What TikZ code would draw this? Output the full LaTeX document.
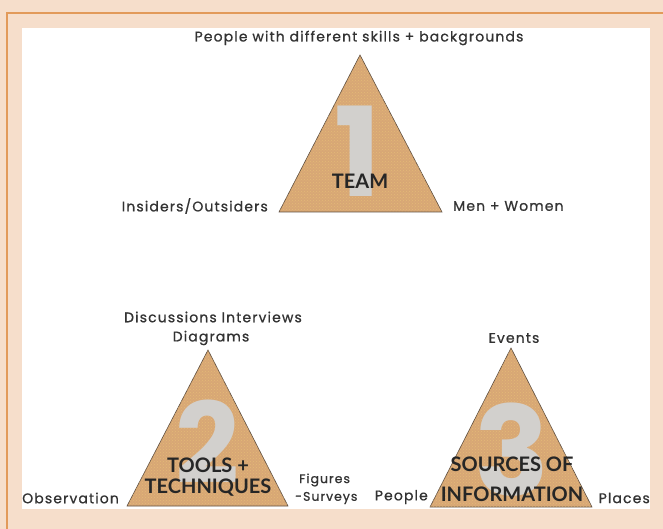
\documentclass[tikz,border=0pt]{standalone}
\usepackage{fontspec}
\usetikzlibrary{patterns}
\newfontfamily\labelfont[LetterSpace=8, FakeBold=0.8]{Poppins}
\newfontfamily\innerfont{Lato}
\newfontfamily\digitfont{Poppins}
\definecolor{peach}{HTML}{F6DECB}
\definecolor{frameorange}{HTML}{E29A5A}
\definecolor{tan}{HTML}{D8A775}
\definecolor{edge}{HTML}{5E4E40}
\definecolor{digitgrey}{HTML}{D2D0CD}
\definecolor{speck}{HTML}{F2D27A}
\tikzset{
  tri/.style={fill=tan, draw=edge, line width=0.6pt, line join=miter},
  speckle/.style={pattern=crosshatch dots, pattern color=speck, opacity=0.45},
  bignum/.style={text=digitgrey, font=\digitfont\bfseries\fontsize{124}{124}\selectfont, inner sep=0pt},
  inlabel/.style={text=black!85, font=\innerfont\bfseries\fontsize{20}{22}\selectfont, inner sep=0pt},
  outlabel/.style={text=black!80, font=\labelfont\fontsize{14}{16}\selectfont, inner sep=0pt},
  smalllabel/.style={outlabel, font=\labelfont\fontsize{12.5}{14}\selectfont}
}
\begin{document}
\begin{tikzpicture}[x=1pt,y=-1pt]
\useasboundingbox (0,0) rectangle (663,529);
% page background, white panel and the orange frame line
\fill[peach] (0,0) rectangle (663,529);
\fill[white] (22,28) rectangle (650,509);
\draw[frameorange, line width=1.6pt] (7,529) -- (7,13) -- (663,13);

% triangle corners
\coordinate (t1a) at (360,55);  \coordinate (t1l) at (279,212); \coordinate (t1r) at (442,212);
\coordinate (t2a) at (208,350); \coordinate (t2l) at (127,506); \coordinate (t2r) at (288,506);
\coordinate (t3a) at (511,348); \coordinate (t3l) at (430,507); \coordinate (t3r) at (592,507);

\foreach \t in {1,2,3}{
  \path[tri] (t\t a) -- (t\t l) -- (t\t r) -- cycle;
  \path[speckle] (t\t a) -- (t\t l) -- (t\t r) -- cycle;
}

% large numbers
\node[bignum] (n1) at (358,151) {1};
\node[bignum, font=\digitfont\bfseries\fontsize{112}{112}\selectfont] (n2) at (207,442) {2};
\node[bignum] (n3) at (512,450) {3};

% labels inside the triangles
\node[inlabel] (team) at (360,181) {TEAM};
\node[inlabel] (tools) at (208,465) {TOOLS +};
\node[inlabel] (tech) at (208,488) {TECHNIQUES};
\node[inlabel] (src) at (512,464) {SOURCES OF};
\node[inlabel] (info) at (512,494) {INFORMATION};

% labels around the triangles
\node[outlabel] (skills) at (359,38) {People with different skills + backgrounds};
\node[outlabel, anchor=east] (insiders) at (268,206) {Insiders/Outsiders};
\node[outlabel, anchor=west] (men) at (453,206) {Men + Women};
\node[outlabel] (disc) at (213,317) {Discussions Interviews};
\node[outlabel] (diag) at (211,338) {Diagrams};
\node[outlabel, anchor=west] (obs) at (22,498) {Observation};
\node[smalllabel, anchor=west] (fig) at (299,480) {Figures};
\node[smalllabel, anchor=west] (surv) at (295,498) {-Surveys};
\node[outlabel] (events) at (514,338) {Events};
\node[outlabel, anchor=east] (people) at (428,497) {People};
\node[outlabel, anchor=east] (places) at (650,498) {Places};
\end{tikzpicture}
\end{document}
